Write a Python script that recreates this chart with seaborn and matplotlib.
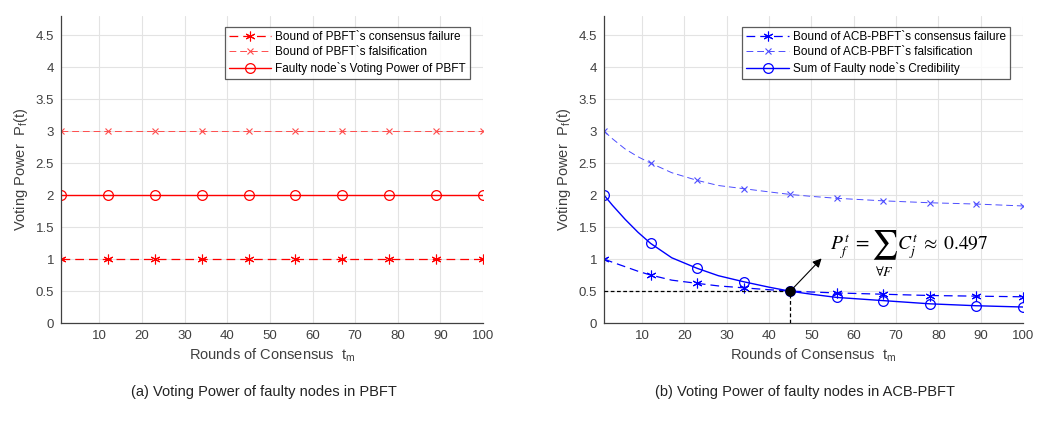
import matplotlib
matplotlib.use("Agg")
import matplotlib.pyplot as plt
import seaborn as sns
import numpy as np
import pandas as pd

# ---------------- data ----------------
t_marks = [1, 12, 23, 34, 45, 56, 67, 78, 89, 100]

pbft_fail = [1, 1, 1, 1, 1, 1, 1, 1, 1, 1]
pbft_fals = [3, 3, 3, 3, 3, 3, 3, 3, 3, 3]
pbft_vp = [2, 2, 2, 2, 2, 2, 2, 2, 2, 2]

# ACB-PBFT curves (markers at t_marks, extra points read in between)
t_line = [1, 3, 6, 9, 12, 17, 23, 28, 34, 40, 45, 50, 56, 67, 78, 89, 100]
acb_fail = [1.00, 0.95, 0.88, 0.81, 0.75, 0.67, 0.62, 0.58, 0.55, 0.52, 0.50, 0.485,
            0.47, 0.45, 0.43, 0.42, 0.41]
acb_fals = [3.00, 2.88, 2.72, 2.60, 2.50, 2.35, 2.23, 2.15, 2.10, 2.05, 2.01, 1.98,
            1.95, 1.91, 1.88, 1.86, 1.83]
acb_cred = [2.00, 1.84, 1.62, 1.42, 1.245, 1.02, 0.855, 0.74, 0.645, 0.56, 0.497, 0.45,
            0.40, 0.35, 0.30, 0.27, 0.25]

cross_t = 45
cross_v = 0.497
arrow_tip = (52.4, 1.01)

x_ticks = [10, 20, 30, 40, 50, 60, 70, 80, 90, 100]
y_ticks = [0, 0.5, 1, 1.5, 2, 2.5, 3, 3.5, 4, 4.5]
y_tick_labels = ["0", "0.5", "1", "1.5", "2", "2.5", "3", "3.5", "4", "4.5"]

labels_a = ["Bound of PBFT`s consensus failure",
            "Bound of PBFT`s falsification",
            "Faulty node`s Voting Power of PBFT"]
labels_b = ["Bound of ACB-PBFT`s consensus failure",
            "Bound of ACB-PBFT`s falsification",
            "Sum of Faulty node`s Credibility"]
captions = ["(a) Voting Power of faulty nodes in PBFT",
            "(b) Voting Power of faulty nodes in ACB-PBFT"]
ylabel = r"Voting Power  P$_{\mathrm{f}}$(t)"
xlabel = r"Rounds of Consensus  t$_{\mathrm{m}}$"
formula_left = r"$P_f^t\;=$"
formula_sum = r"$\sum$"
formula_sub = r"$\forall F$"
formula_right = r"$C_j^t\;\approx\;0.497$"

# ---------------- style ----------------
sns.set_style("white")
plt.rcParams["font.family"] = ["Liberation Sans", "DejaVu Sans"]
plt.rcParams["mathtext.fontset"] = "custom"
plt.rcParams["mathtext.rm"] = "Liberation Sans"
plt.rcParams["mathtext.it"] = "Liberation Sans:italic"

fig = plt.figure(figsize=(10.56, 4.42), dpi=100)
ax_a = fig.add_axes([0.0578, 0.2692, 0.3996, 0.6946])
ax_b = fig.add_axes([0.5720, 0.2692, 0.3968, 0.6946])

RED = "#ff0000"
RED_L = "#ff4d4d"
BLUE = "#0000ff"
BLUE_L = "#4d4dff"
DASH = (0, (7, 4))
STAR = (6, 2, 0)


def idx_of(tl, marks):
    return [tl.index(m) for m in marks]


def draw(ax, tl, fail, fals, vp, color, light, labels):
    mk = idx_of(tl, t_marks)
    df = pd.DataFrame({"t": tl, "fail": fail, "fals": fals, "vp": vp})
    sns.lineplot(data=df, x="t", y="fail", ax=ax, color=color, lw=0.9,
                 linestyle=DASH, marker=STAR, markersize=7, markevery=mk,
                 markeredgecolor=color, markeredgewidth=0.8,
                 label=labels[0], estimator=None)
    sns.lineplot(data=df, x="t", y="fals", ax=ax, color=light, lw=0.7,
                 linestyle=DASH, marker="x", markersize=5, markevery=mk,
                 markeredgecolor=light, markeredgewidth=0.8,
                 label=labels[1], estimator=None)
    sns.lineplot(data=df, x="t", y="vp", ax=ax, color=color, lw=1.0,
                 linestyle="-", marker="o", markersize=7, markevery=mk,
                 markerfacecolor="none", markeredgecolor=color, markeredgewidth=0.9,
                 label=labels[2], estimator=None)


draw(ax_a, t_marks, pbft_fail, pbft_fals, pbft_vp, RED, RED_L, labels_a)
draw(ax_b, t_line, acb_fail, acb_fals, acb_cred, BLUE, BLUE_L, labels_b)

# annotation on (b)
ax_b.plot([1, cross_t], [cross_v, cross_v], color="black", lw=0.9, linestyle=(0, (3, 2)), zorder=4)
ax_b.plot([cross_t, cross_t], [0, cross_v], color="black", lw=0.9, linestyle=(0, (3, 2)), zorder=4)
ax_b.plot([cross_t], [cross_v], "o", color="black", markersize=6.5, zorder=6)
ax_b.annotate("", xy=arrow_tip, xytext=(cross_t, cross_v),
              arrowprops=dict(arrowstyle="-|>", color="black", lw=0.8,
                              mutation_scale=13, shrinkA=0, shrinkB=0), zorder=6)
ax_b.text(54.4, 1.125, formula_left, fontsize=14, ha="left", va="baseline",
          math_fontfamily="stix", color="black", zorder=6)
ax_b.text(67.2, 1.22, formula_sum, fontsize=21, ha="center", va="center",
          math_fontfamily="stix", color="black", zorder=6)
ax_b.text(67.2, 0.80, formula_sub, fontsize=10, ha="center", va="center",
          math_fontfamily="stix", color="black", zorder=6)
ax_b.text(70.2, 1.125, formula_right, fontsize=14, ha="left", va="baseline",
          math_fontfamily="stix", color="black", zorder=6)

GRAY = "#404040"
for ax, cap in zip([ax_a, ax_b], captions):
    ax.set_xlim(1, 100)
    ax.set_ylim(0, 4.8)
    ax.set_xticks(x_ticks)
    ax.set_yticks(y_ticks)
    ax.set_yticklabels(y_tick_labels)
    ax.grid(True, color="#e3e3e3", lw=0.8)
    ax.set_axisbelow(True)
    for s in ["top", "right"]:
        ax.spines[s].set_visible(False)
    for s in ["left", "bottom"]:
        ax.spines[s].set_color(GRAY)
        ax.spines[s].set_linewidth(0.9)
    ax.tick_params(axis="both", direction="in", length=3, width=0.8,
                   colors=GRAY, labelsize=9.5, labelcolor=GRAY, pad=5)
    ax.set_xlabel(xlabel, fontsize=10.5, color=GRAY, labelpad=3)
    ax.set_ylabel(ylabel, fontsize=10.5, color=GRAY, labelpad=4)
    leg = ax.legend(loc="upper right", bbox_to_anchor=(0.968, 0.965), fontsize=8.5,
                    frameon=True, fancybox=False, handlelength=3.6, handletextpad=0.3,
                    borderpad=0.35, labelspacing=0.3, borderaxespad=0)
    leg.get_frame().set_edgecolor("#333333")
    leg.get_frame().set_linewidth(0.9)
    for txt in leg.get_texts():
        txt.set_color("black")
    pos = ax.get_position()
    fig.text(pos.x0 + pos.width / 2 - 0.008, 0.113, cap, ha="center", va="center",
             fontsize=10.5, color="#222222",
             family=["Liberation Sans Narrow", "Liberation Sans", "DejaVu Sans"])

fig.savefig("out.png", dpi=100)
